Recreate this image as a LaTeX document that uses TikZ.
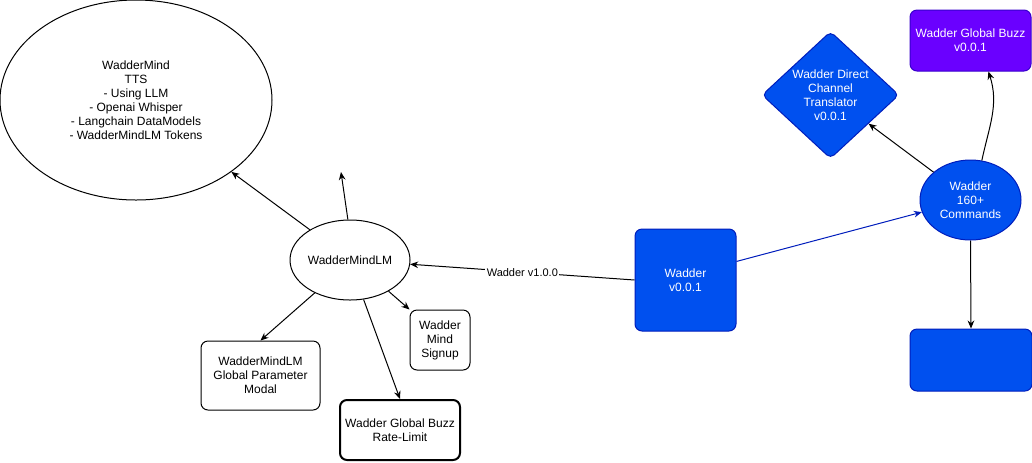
\documentclass[tikz,border=0pt]{standalone}
\usepackage{fontspec}
\setmainfont{Liberation Sans}
\usetikzlibrary{shapes.geometric,arrows.meta}

\newlength{\du}
\setlength{\du}{0.750000pt}

\definecolor{wadderfill}{rgb}{0.000000, 0.313725, 0.937255}
\definecolor{wadderline}{rgb}{0.000000, 0.113725, 0.737255}
\definecolor{buzzfill}{rgb}{0.415686, 0.000000, 1.000000}
\definecolor{buzzline}{rgb}{0.215686, 0.000000, 0.800000}

\begin{document}
\begin{tikzpicture}[x=\du,y=-\du,
  font=\fontsize{9}{10.5}\selectfont,
  line width=0.75pt,
  >={Stealth[length=6pt,width=5pt]},
  plainoval/.style={ellipse,draw,align=center,inner sep=0pt},
  plainbox/.style={rectangle,draw,rounded corners=7\du,align=center,inner sep=0pt},
  bluebox/.style={plainbox,fill=wadderfill,draw=wadderline,text=white},
  link/.style={->}]
\useasboundingbox (0,0) rectangle (1032,462);

% left side
\node[plainoval,minimum width=272\du,minimum height=200\du] (mind) at (136,100)
  {WadderMind\\TTS\\- Using LLM\\- Openai Whisper\\- Langchain DataModels\\- WadderMindLM Tokens};
\node[plainoval,minimum width=120\du,minimum height=80\du] (mindlm) at (350,260) {WadderMindLM};
\node[plainbox,minimum width=60\du,minimum height=60\du] (signup) at (440,340) {Wadder\\Mind\\Signup};
\node[plainbox,minimum width=119\du,minimum height=69\du] (param) at (260.5,375.5)
  {WadderMindLM\\Global Parameter\\Modal};
\node[plainbox,line width=1.5pt,minimum width=120\du,minimum height=60\du] (ratelimit) at (400,430)
  {Wadder Global Buzz\\Rate-Limit};
\coordinate (loose) at (341,172);

% right side
\node[bluebox,minimum width=101\du,minimum height=102\du] (wadder) at (685.5,280) {Wadder\\v0.0.1};
\node[ellipse,fill=wadderfill,draw=wadderline,text=white,align=center,inner sep=0pt,
  minimum width=101\du,minimum height=80\du] (commands) at (970.5,200) {Wadder\\160+\\Commands};
\node[diamond,fill=wadderfill,draw=wadderline,text=white,align=center,inner sep=0pt,
  rounded corners=5\du,minimum width=137\du,minimum height=126\du] (translator) at (830.5,95)
  {Wadder Direct\\Channel\\Translator\\v0.0.1};
\node[plainbox,fill=buzzfill,draw=buzzline,text=white,minimum width=121\du,minimum height=61\du]
  (buzz) at (970.5,40.5) {Wadder Global Buzz\\v0.0.1};
\node[bluebox,minimum width=122\du,minimum height=62\du] (empty) at (971,360) {};

\draw[link] (mindlm.143) -- (mind.-37);
\draw[link] (mindlm.93) -- (loose);
\draw[link] (mindlm.-39) -- (signup.north west);
\draw[link] (mindlm.-137) -- (param.north);
\draw[link] (mindlm.-71) -- (ratelimit.north);
\draw[link] (wadder.west) -- node[fill=white,inner sep=1pt,font=\fontsize{8.25}{9}\selectfont] (vlabel) {Wadder v1.0.0} (mindlm);
\draw[link,draw=wadderline] (wadder.20) -- (commands.194);
\draw[link] (commands.143) -- (translator.-37);
\draw[link] (commands.74) to[out=78,in=-72] (buzz.-60);
\draw[link] (commands.south) -- (empty.north);
\end{tikzpicture}
\end{document}
